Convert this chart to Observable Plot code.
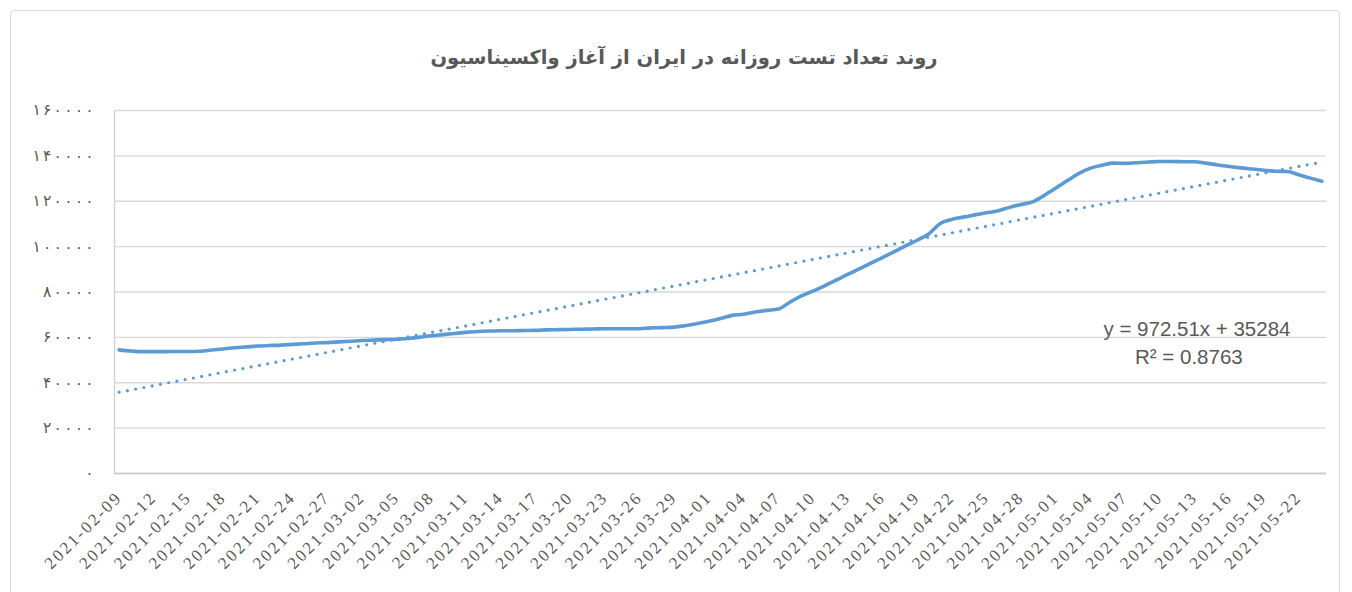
<!DOCTYPE html>
<html>
<head>
<meta charset="utf-8">
<script src="https://cdn.jsdelivr.net/npm/d3@7"></script>
<script src="https://cdn.jsdelivr.net/npm/@observablehq/plot@0.6"></script>
<style>
  html, body { margin: 0; padding: 0; background: #fff; }
  #wrap { position: relative; width: 1352px; height: 592px; overflow: hidden; }
  #border { position: absolute; left: 10px; top: 10px; width: 1330px; height: 620px;
            border: 1px solid #d9d9d9; border-radius: 4px; box-sizing: border-box; }
  #title { position: absolute; left: 8px; width: 1352px; top: 46px; text-align: center;
           font-family: "DejaVu Sans", sans-serif; font-weight: bold; font-size: 19.5px; color: #595959; }
  #chart { position: absolute; left: 0; top: 0; }
</style>
</head>
<body>
<div id="wrap">
  <div id="border"></div>
  <div id="title" dir="rtl">روند تعداد تست روزانه در ایران از آغاز واکسیناسیون</div>
  <div id="chart"></div>
</div>
<script>
// Daily tests, one value per day from 2021-02-09 to 2021-05-24
const startDate = "2021-02-09";
const dailyTests = [
  54500, 54000, 53700, 53700, 53700, 53800, 53800, 53900, 54400, 54900,
  55400, 55800, 56200, 56400, 56600, 56900, 57200, 57500, 57700, 58000,
  58300, 58600, 58800, 59000, 59200, 59500, 60100, 60700, 61200, 61700,
  62200, 62600, 62800, 62900, 62900, 63000, 63100, 63300, 63400, 63500,
  63600, 63700, 63800, 63800, 63800, 63800, 64200, 64300, 64500, 65200,
  66100, 67100, 68300, 69700, 70200, 71200, 71900, 72500, 75500, 78300,
  80400, 82700, 85200, 87800, 90200, 92700, 95200, 97700, 100300, 102800,
  105600, 110200, 112000, 113000, 114000, 114900, 115800, 117300, 118600, 119700,
  122600, 125800, 129100, 132300, 134600, 135900, 136800, 136700, 137000, 137300,
  137500, 137500, 137400, 137400, 136800, 136000, 135300, 134700, 134200, 133700,
  133200, 133100, 131700, 130200, 128800
];
const yTicks = [0, 20000, 40000, 60000, 80000, 100000, 120000, 140000, 160000];
const yTickLabels = ["۰", "۲۰۰۰۰", "۴۰۰۰۰", "۶۰۰۰۰", "۸۰۰۰۰", "۱۰۰۰۰۰", "۱۲۰۰۰۰", "۱۴۰۰۰۰", "۱۶۰۰۰۰"];
const trendLabel = ["y = 972.51x + 35284", "R² = 0.8763"];

const fmt = d3.utcFormat("%Y-%m-%d");
const start = d3.utcParse("%Y-%m-%d")(startDate);
const dates = dailyTests.map((_, i) => fmt(d3.utcDay.offset(start, i)));
const data = dailyTests.map((v, i) => ({i, date: dates[i], v}));
const xTicks = d3.range(0, dates.length, 3);
const xDomain = [-0.4, dates.length - 1 + 0.4];

const blue = "#5B9BD5";
const grey = "#595959";

const chart = Plot.plot({
  width: 1352,
  height: 592,
  marginLeft: 114,
  marginRight: 26,
  marginTop: 110,
  marginBottom: 119,
  style: {background: "transparent", overflow: "visible"},
  x: {type: "linear", domain: xDomain},
  y: {domain: [0, 160000]},
  marks: [
    Plot.gridY(yTicks, {stroke: "#d9d9d9", strokeOpacity: 1, strokeWidth: 1.3}),
    Plot.ruleY([0], {stroke: "#c8c8c8", strokeWidth: 1.5}),
    Plot.ruleX([xDomain[0]], {y1: 0, y2: 160000, stroke: "#d0d0d0", strokeWidth: 1.3}),
    Plot.axisY(yTicks, {
      tickSize: 0, tickPadding: 21,
      tickFormat: (d) => yTickLabels[yTicks.indexOf(d)],
      fontSize: 15.5, fontFamily: "DejaVu Sans",
      fill: grey, label: null
    }),
    Plot.axisX(xTicks, {
      tickSize: 0, tickPadding: 21, tickRotate: -45,
      tickFormat: (i) => dates[i],
      fontSize: 17, fontFamily: "Liberation Serif",
      fill: grey, label: null
    }),
    Plot.linearRegressionY(data, {
      x: "i", y: "v", ci: 0,
      stroke: blue, strokeWidth: 3.2,
      strokeDasharray: "0 8.4", strokeLinecap: "round"
    }),
    Plot.line(data, {
      x: "i", y: "v", curve: "monotone-x",
      stroke: blue, strokeWidth: 3.6, strokeLinejoin: "round"
    }),
    Plot.text([trendLabel[0]], {
      x: 93.2, y: 63500, text: (d) => d,
      fontSize: 20.5, fontFamily: "Liberation Sans, Arial, sans-serif", fill: grey
    }),
    Plot.text([trendLabel[1]], {
      x: 92.5, y: 51200, text: (d) => d,
      fontSize: 20.5, fontFamily: "Liberation Sans, Arial, sans-serif", fill: grey
    })
  ]
});
// spacing of the axis labels (Excel renders them widely spaced)
d3.select(chart).selectAll("text").each(function() {
  const t = this.textContent;
  if (dates.includes(t)) {
    this.setAttribute("letter-spacing", "2.2");
  } else if (yTickLabels.includes(t)) {
    const chars = Array.from(t);
    const node = d3.select(this);
    node.text(null);
    chars.forEach((c, k) => {
      node.append("tspan").attr("dx", k ? 2.2 : 0).text(c);
    });
  }
});
document.getElementById("chart").appendChild(chart);
</script>
</body>
</html>
